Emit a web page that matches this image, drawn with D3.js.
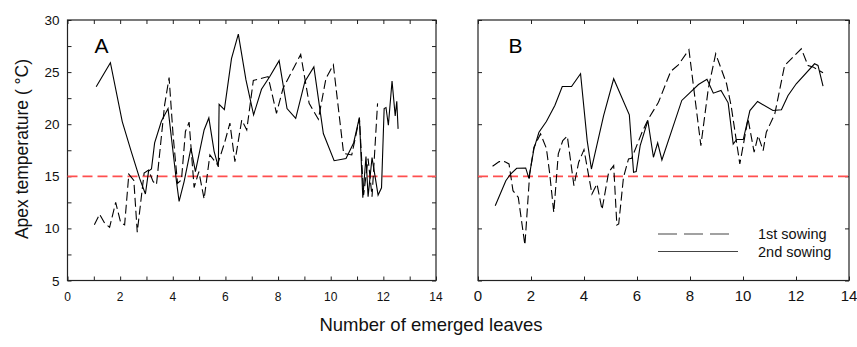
<!DOCTYPE html>
<html>
<head>
<meta charset="utf-8">
<script src="https://cdn.jsdelivr.net/npm/d3@7"></script>
<style>
  html, body { margin: 0; padding: 0; background: #fff; }
  svg { display: block; font-family: "Liberation Sans", Arial, sans-serif; }
</style>
</head>
<body>
<div id="chart"></div>
<script>
// [leaves, apex temperature]
const sowing1A = [
  [1.02, 10.34], [1.22, 11.36], [1.41, 10.5], [1.6, 10.1], [1.83, 12.5], [2.02, 10.56],
  [2.17, 10.34], [2.33, 15.2], [2.52, 14.6], [2.65, 9.64], [2.91, 15.3], [3.08, 15.6],
  [3.25, 14.5], [3.38, 14.2], [3.69, 21.85], [3.86, 24.47], [4.01, 19.0], [4.18, 14.33],
  [4.33, 14.65], [4.48, 19.3], [4.62, 20.2], [4.81, 13.92], [4.99, 15.45], [5.19, 12.83],
  [5.41, 17.05], [5.7, 16.1], [5.98, 18.33], [6.17, 20.1], [6.36, 16.41], [6.62, 20.4],
  [6.81, 19.45], [7.06, 24.2], [7.62, 24.57], [7.94, 21.05], [8.19, 23.45], [8.86, 26.7],
  [9.18, 22.0], [9.53, 20.47], [9.82, 24.4], [10.1, 25.7], [10.49, 17.2], [10.8, 17.05],
  [11.09, 20.57], [11.25, 13.2], [11.42, 16.7], [11.57, 13.05], [11.78, 22.0]
];
const sowing2A = [
  [1.09, 23.6], [1.63, 25.9], [2.08, 20.25], [2.42, 17.4], [2.74, 14.8], [2.96, 13.3],
  [3.08, 15.5], [3.19, 15.7], [3.31, 18.2], [3.57, 20.3], [3.82, 21.5], [4.14, 14.5],
  [4.24, 12.6], [4.43, 14.5], [4.69, 17.7], [4.86, 15.45], [5.19, 19.45], [5.37, 20.6],
  [5.57, 17.4], [5.73, 15.9], [5.76, 21.9], [5.96, 21.4], [6.23, 26.3], [6.49, 28.65],
  [6.78, 24.25], [7.07, 20.9], [7.37, 23.35], [7.68, 24.55], [8.04, 26.1], [8.34, 21.5],
  [8.67, 20.55], [9.02, 24.1], [9.36, 25.5], [9.72, 19.1], [10.13, 16.5], [10.58, 16.7],
  [10.87, 18.2], [11.09, 20.65], [11.22, 12.95], [11.34, 16.9], [11.42, 13.05], [11.57, 16.8],
  [11.8, 13.2], [11.93, 13.9], [12.03, 21.5], [12.1, 21.6], [12.19, 19.9], [12.33, 24.15],
  [12.45, 20.8], [12.51, 22.2], [12.56, 19.55]
];
const sowing1B = [
  [0.55, 15.96], [0.8, 16.41], [1.0, 16.41], [1.17, 16.19], [1.32, 13.62], [1.52, 12.98],
  [1.77, 8.4], [1.95, 15.22], [2.11, 17.79], [2.36, 19.07], [2.58, 17.69], [2.7, 15.38],
  [2.86, 11.54], [3.03, 17.15], [3.2, 18.43], [3.37, 18.85], [3.62, 14.1], [3.8, 16.35],
  [4.0, 17.56], [4.3, 13.3], [4.49, 14.26], [4.68, 11.8], [4.93, 15.38], [5.12, 16.03],
  [5.24, 10.32], [5.31, 10.42], [5.49, 14.9], [5.68, 16.67], [5.8, 16.73], [6.19, 19.23],
  [6.43, 20.51], [6.81, 22.1], [7.27, 25.06], [7.56, 25.7], [7.96, 27.15], [8.41, 17.95],
  [8.69, 23.4], [8.97, 26.76], [9.38, 23.88], [9.55, 21.8], [9.88, 16.18], [10.19, 20.51],
  [10.42, 17.31], [10.57, 18.91], [10.76, 17.47], [10.88, 19.23], [11.2, 20.99], [11.57, 25.64],
  [11.85, 26.35], [12.2, 27.24], [12.45, 25.64], [12.64, 25.5], [13.02, 24.94]
];
const sowing2B = [
  [0.65, 12.18], [1.05, 14.58], [1.23, 15.22], [1.46, 15.77], [1.8, 15.8], [1.92, 14.8],
  [2.11, 17.63], [2.3, 19.23], [2.58, 20.26], [2.9, 21.8], [3.18, 23.62], [3.53, 23.62],
  [3.87, 24.84], [4.12, 18.43], [4.28, 15.7], [4.74, 20.83], [5.12, 24.36], [5.71, 20.9],
  [5.87, 15.38], [5.97, 15.45], [6.12, 17.95], [6.41, 20.35], [6.62, 16.83], [6.78, 18.2],
  [6.94, 16.57], [7.69, 22.28], [8.32, 23.81], [8.64, 24.3], [8.88, 22.98], [9.17, 23.24],
  [9.44, 22.05], [9.63, 18.1], [9.76, 18.53], [10.01, 18.53], [10.26, 21.31], [10.55, 22.18],
  [11.13, 21.31], [11.45, 21.38], [11.7, 22.76], [12.01, 23.88], [12.7, 25.8], [12.83, 25.64],
  [13.02, 23.65]
];

const threshold = 15;
const xTickLabels = [0, 2, 4, 6, 8, 10, 12, 14];
const yTickLabels = [5, 10, 15, 20, 25, 30];
const legendLabels = ["1st sowing", "2nd sowing"];

const W = 857, H = 347;
const svg = d3.select("#chart").append("svg")
  .attr("width", W).attr("height", H)
  .attr("viewBox", [0, 0, W, H]);

// one panel = box with inward ticks on all four sides
function panel(p) {
  const x = d3.scaleLinear().domain([0, 14]).range([p.l, p.r]);
  const y = d3.scaleLinear().domain([5, 30]).range([p.b, p.t]);
  const g = svg.append("g");
  const tick = 4;

  const frame = (sel) => sel.call(s => s.select(".domain").remove())
    .call(s => s.selectAll(".tick line").attr("stroke", "#222"));

  g.append("g").attr("transform", `translate(0,${p.b})`)
    .call(d3.axisTop(x).tickValues(d3.range(0, 14.01, p.xStep)).tickSize(tick).tickFormat(""))
    .call(frame);
  g.append("g").attr("transform", `translate(0,${p.t})`)
    .call(d3.axisBottom(x).tickValues(d3.range(0, 14.01, p.xStep)).tickSize(tick).tickFormat(""))
    .call(frame);
  g.append("g").attr("transform", `translate(${p.l},0)`)
    .call(d3.axisRight(y).tickValues(d3.range(5, 30.01, p.yStep)).tickSize(tick).tickFormat(""))
    .call(frame);
  g.append("g").attr("transform", `translate(${p.r},0)`)
    .call(d3.axisLeft(y).tickValues(d3.range(5, 30.01, p.yStep)).tickSize(tick).tickFormat(""))
    .call(frame);

  g.append("rect")
    .attr("x", p.l).attr("y", p.t)
    .attr("width", p.r - p.l).attr("height", p.b - p.t)
    .attr("fill", "none").attr("stroke", "#222").attr("stroke-width", 1.2);

  // x tick labels
  g.append("g").selectAll("text").data(xTickLabels).join("text")
    .attr("x", d => x(d)).attr("y", p.b + 20)
    .attr("text-anchor", "middle")
    .attr("font-size", p.xFont)
    .attr("fill", "#111")
    .text(d => d);

  if (p.yLabels) {
    g.append("g").selectAll("text").data(yTickLabels).join("text")
      .attr("x", p.l - 8).attr("y", d => y(d) + 5)
      .attr("text-anchor", "end")
      .attr("font-size", 13.5)
      .attr("fill", "#111")
      .text(d => d);
  }

  // 15 °C reference
  g.append("line")
    .attr("x1", p.l).attr("x2", p.r)
    .attr("y1", y(threshold)).attr("y2", y(threshold))
    .attr("stroke", "#ff4f4f").attr("stroke-width", 1.8)
    .attr("stroke-dasharray", "10,5");

  const line = d3.line().x(d => x(d[0])).y(d => y(d[1]));
  g.append("path").datum(p.s1).attr("d", line)
    .attr("fill", "none").attr("stroke", "#000").attr("stroke-width", 1.1)
    .attr("stroke-dasharray", "9,4");
  g.append("path").datum(p.s2).attr("d", line)
    .attr("fill", "none").attr("stroke", "#000").attr("stroke-width", 1.1);

  g.append("text")
    .attr("x", x(p.letterX)).attr("y", y(26.8))
    .attr("font-size", 21).attr("fill", "#000")
    .text(p.letter);

  return { x, y };
}

const a = panel({ l: 67.5, r: 436, t: 20, b: 280.5, xStep: 1, yStep: 2.5,
  xFont: 12, yLabels: true, s1: sowing1A, s2: sowing2A, letter: "A", letterX: 1.03 });
const b = panel({ l: 478, r: 849, t: 20, b: 280.5, xStep: 2, yStep: 5,
  xFont: 15, yLabels: false, s1: sowing1B, s2: sowing2B, letter: "B", letterX: 1.15 });

// legend in panel B
const legend = svg.append("g");
legend.append("line")
  .attr("x1", 658).attr("x2", 731).attr("y1", 234).attr("y2", 234)
  .attr("stroke", "#444").attr("stroke-width", 1.1).attr("stroke-dasharray", "19,7");
legend.append("line")
  .attr("x1", 658).attr("x2", 738).attr("y1", 251.5).attr("y2", 251.5)
  .attr("stroke", "#444").attr("stroke-width", 1.1);
legend.selectAll("text").data(legendLabels).join("text")
  .attr("x", 758).attr("y", (d, i) => 239 + i * 17.5)
  .attr("font-size", 14.5).attr("fill", "#111")
  .text(d => d);

// axis titles
svg.append("text")
  .attr("transform", "translate(28,149) rotate(-90)")
  .attr("text-anchor", "middle")
  .attr("font-size", 17.5)
  .attr("fill", "#111")
  .text("Apex temperature ( °C)");

svg.append("text")
  .attr("x", 431).attr("y", 331)
  .attr("text-anchor", "middle")
  .attr("font-size", 18.5)
  .attr("fill", "#111")
  .text("Number of emerged leaves");
</script>
</body>
</html>
